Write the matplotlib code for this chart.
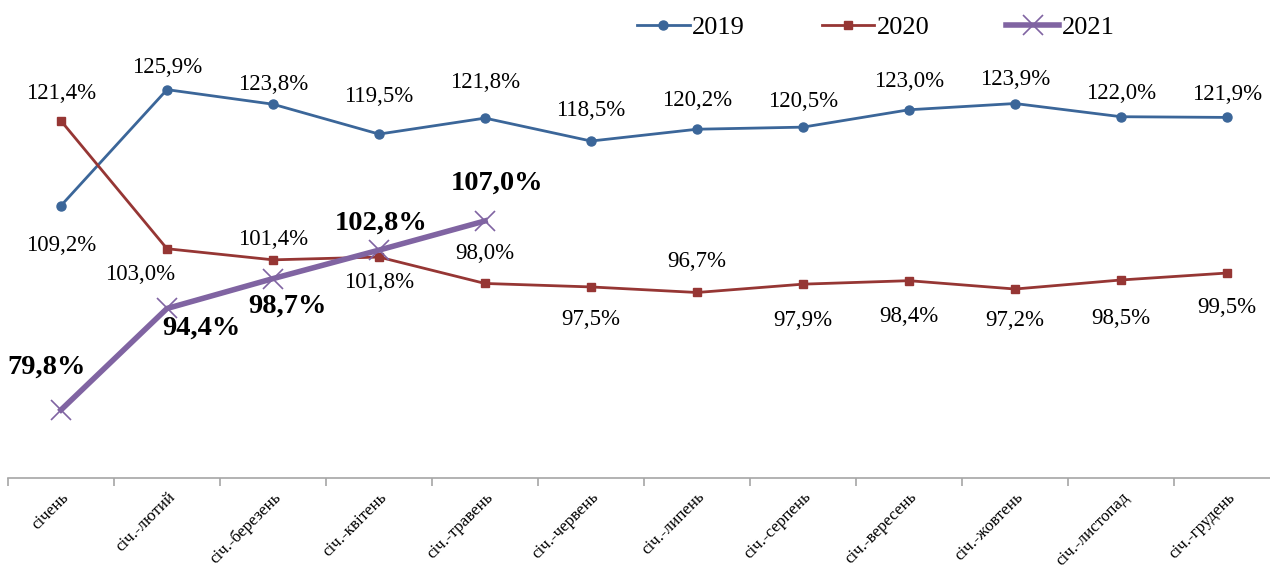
import matplotlib
matplotlib.use("Agg")
import matplotlib.pyplot as plt

categories = ["січень", "січ.-лютий", "січ.-березень", "січ.-квітень", "січ.-травень",
              "січ.-червень", "січ.-липень", "січ.-серпень", "січ.-вересень",
              "січ.-жовтень", "січ.-листопад", "січ.-грудень"]
vals_2019 = [109.2, 125.9, 123.8, 119.5, 121.8, 118.5, 120.2, 120.5, 123.0, 123.9, 122.0, 121.9]
vals_2020 = [121.4, 103.0, 101.4, 101.8, 98.0, 97.5, 96.7, 97.9, 98.4, 97.2, 98.5, 99.5]
vals_2021 = [79.8, 94.4, 98.7, 102.8, 107.0]

# label offsets in pixels (dx, dy)
off_2019 = [(0, -40), (0, 22), (0, 20), (0, 38), (0, 36), (0, 31), (0, 29), (0, 26),
            (0, 28), (0, 24), (0, 23), (0, 23)]
off_2020 = [(0, 27), (-27, -26), (0, 20), (0, -25), (0, 30), (0, -33), (0, 31), (0, -36),
            (0, -36), (0, -31), (0, -39), (0, -34)]
off_2021 = [(-14, 43), (34, -20), (14, -28), (2, 27), (12, 38)]

c19, c20, c21 = "#3B6699", "#963634", "#8064A2"
serif = "Liberation Serif"

fig = plt.figure(figsize=(12.7, 5.73), dpi=100)
ax = fig.add_axes([8 / 1270, 95 / 573, 1272 / 1270, 478 / 573])

x19 = list(range(len(vals_2019)))
x20 = list(range(len(vals_2020)))
x21 = list(range(len(vals_2021)))

ax.plot(x19, vals_2019, color=c19, lw=2, marker="o", ms=6.5, label="2019", zorder=3)
ax.plot(x20, vals_2020, color=c20, lw=2, marker="s", ms=6, label="2020", zorder=3)
ax.plot(x21, vals_2021, color=c21, lw=4, marker="x", ms=15, mew=1.2, label="2021", zorder=4)

def fmt(v):
    return f"{v:.1f}%".replace(".", ",")

for xs, vs, offs in ((x19, vals_2019, off_2019), (x20, vals_2020, off_2020)):
    for x, v, (dx, dy) in zip(xs, vs, offs):
        ax.annotate(fmt(v), (x, v), xytext=(dx, dy), textcoords="offset pixels",
                    ha="center", va="center", fontsize=16.5, family=serif, color="black")
for x, v, (dx, dy) in zip(x21, vals_2021, off_2021):
    ax.annotate(fmt(v), (x, v), xytext=(dx, dy), textcoords="offset pixels",
                ha="center", va="center", fontsize=20.5, family=serif, weight="bold",
                color="black")

ax.set_xlim(-0.5, 11.5)
ax.set_ylim(70, 138.8)
ax.set_yticks([])
for s in ("left", "right", "top"):
    ax.spines[s].set_visible(False)
ax.spines["bottom"].set_color("#A6A6A6")
ax.spines["bottom"].set_linewidth(1.2)

ax.set_xticks(range(len(categories)))
ax.set_xticklabels(categories, rotation=45, ha="right", rotation_mode="anchor",
                   fontsize=12.2, family=serif)
ax.tick_params(axis="x", which="major", length=0, pad=8)
ax.set_xticks([i - 0.5 for i in range(len(categories) + 1)], minor=True)
ax.tick_params(axis="x", which="minor", length=6, color="#A6A6A6", width=1.2)

leg = ax.legend(loc="upper left", bbox_to_anchor=(613 / 1272, 1.0), ncol=3, frameon=False,
                prop={"family": serif, "size": 19}, handlelength=2.0, handletextpad=0.1,
                columnspacing=2.9, borderaxespad=0.2)

fig.savefig("out.png", dpi=100)
